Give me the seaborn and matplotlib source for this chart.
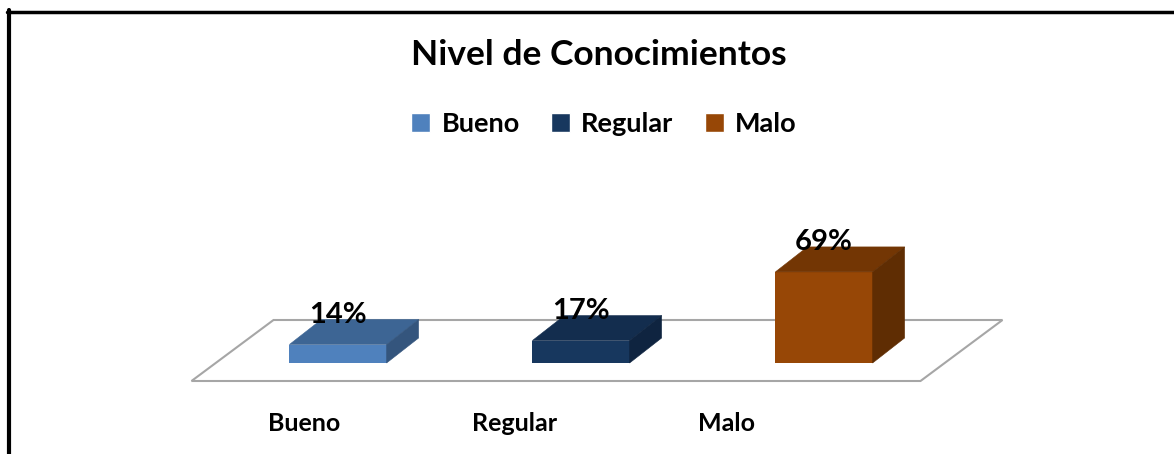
import matplotlib
matplotlib.use('Agg')
import matplotlib.pyplot as plt
import seaborn as sns
import pandas as pd
from matplotlib.patches import Polygon
from matplotlib.lines import Line2D
from matplotlib.transforms import IdentityTransform

# ----- Datos del gráfico -----
categorias = ['Bueno', 'Regular', 'Malo']
porcentajes = [14, 17, 69]
titulo = 'Nivel de Conocimientos'

# Colores de cada cara de las barras (frente, arriba, lado)
colores_frente = ['#4F81BD', '#17375E', '#974706']
colores_arriba = ['#3D6594', '#132D4E', '#733604']
colores_lado = ['#34557D', '#0F2440', '#5F2D03']

# Profundidad "3D" en pixeles (barras y piso)
prof_barra = (32, 25)
prof_piso = (82, 61)

sns.set_theme(style='white')
plt.rcParams['font.family'] = ['Lato', 'DejaVu Sans']

fig = plt.figure(figsize=(11.74, 4.54), dpi=100)
ax = fig.add_axes([0, 0, 1, 1])

df = pd.DataFrame({'nivel': categorias, 'pct': porcentajes})
sns.barplot(data=df, x='nivel', y='pct', hue='nivel', palette=colores_frente,
            saturation=1, width=0.4, ax=ax, legend=True)

# Escala: 243 px por categoria, 1.32 px por punto porcentual
ax.set_xlim(-338 / 243, (1174 - 338) / 243)
ax.set_ylim(-91 / 1.32, 363 / 1.32)
ax.axis('off')

to_px = ax.transData.transform
ident = IdentityTransform()

# Piso (paralelogramo) centrado en la profundidad de las barras
mx, my = prof_barra[0] / 2, prof_barra[1] / 2
hx, hy = prof_piso[0] / 2, prof_piso[1] / 2
izq = to_px((-0.5, 0))
der = to_px((len(categorias) - 0.5, 0))
piso = [(izq[0] + mx - hx, izq[1] + my - hy),
        (der[0] + mx - hx, der[1] + my - hy),
        (der[0] + mx + hx, der[1] + my + hy),
        (izq[0] + mx + hx, izq[1] + my + hy)]
ax.add_patch(Polygon(piso, closed=True, facecolor='white', edgecolor='#A6A6A6',
                     linewidth=1.5, transform=ident, zorder=1))

# Caras superior y lateral de cada barra
dx, dy = prof_barra
barras = [b for cont in ax.containers for b in cont]
for i, b in enumerate(barras):
    b.set_zorder(3)
    b.set_edgecolor('none')
    x0, y0 = to_px((b.get_x(), 0))
    x1, y1 = to_px((b.get_x() + b.get_width(), b.get_height()))
    arriba = [(x0, y1), (x1, y1), (x1 + dx, y1 + dy), (x0 + dx, y1 + dy)]
    lado = [(x1, y0), (x1 + dx, y0 + dy), (x1 + dx, y1 + dy), (x1, y1)]
    ax.add_patch(Polygon(arriba, closed=True, facecolor=colores_arriba[i],
                         edgecolor=colores_arriba[i], linewidth=0.4,
                         transform=ident, zorder=3.1))
    ax.add_patch(Polygon(lado, closed=True, facecolor=colores_lado[i],
                         edgecolor=colores_lado[i], linewidth=0.4,
                         transform=ident, zorder=3.1))
    ax.annotate(f'{porcentajes[i]}%',
                (b.get_x() + b.get_width() / 2, b.get_height()),
                xytext=(0, 21.6), textcoords='offset points',
                ha='center', va='center', fontsize=21, fontweight='bold',
                color='black', zorder=5)

# Etiquetas de categoria (en perspectiva, debajo del piso)
for i, cat in enumerate(categorias):
    ax.text(i - (34 + 32 * i) / 243, 0.068, cat,
            transform=ax.get_xaxis_transform(), ha='center', va='center',
            fontsize=18, fontweight='bold', color='black')

# Titulo
fig.text(599 / 1174, 1 - 55 / 454, titulo, ha='center', va='center',
         fontsize=25.5, fontweight='bold', color='black')

# Leyenda
sns.move_legend(ax, 'center', bbox_to_anchor=(604 / 1174, 1 - 124 / 454),
                bbox_transform=fig.transFigure, ncol=3, frameon=False,
                title='', prop={'weight': 'bold', 'size': 19.5},
                labelcolor='black',
                handlelength=0.7, handleheight=0.7, handletextpad=0.42,
                columnspacing=1.15)

# Marco (solo lados superior e izquierdo visibles)
fig.add_artist(Line2D([7 / 1174, 1], [1 - 11.5 / 454, 1 - 11.5 / 454],
                      color='black', linewidth=2.5, transform=fig.transFigure))
fig.add_artist(Line2D([9 / 1174, 9 / 1174], [0, 1 - 10 / 454],
                      color='black', linewidth=3, transform=fig.transFigure))

fig.savefig('out.png', dpi=100, facecolor='white')
